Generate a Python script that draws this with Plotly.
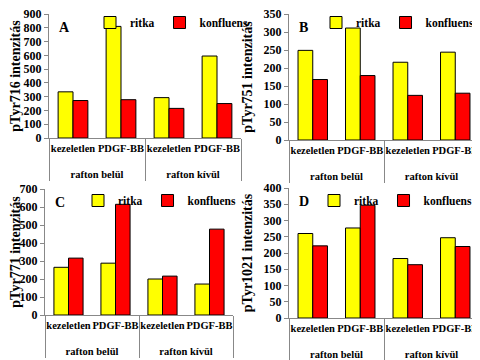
import plotly.graph_objects as go

groups = ["rafton belül", "rafton belül", "rafton kívül", "rafton kívül"]
treatments = ["kezeletlen", "PDGF-BB", "kezeletlen", "PDGF-BB"]

a_ritka = [335, 810, 293, 595]
a_konf = [272, 278, 215, 250]
b_ritka = [249, 311, 216, 244]
b_konf = [168, 179, 124, 130]
c_ritka = [265, 288, 200, 172]
c_konf = [316, 615, 216, 477]
d_ritka = [260, 277, 183, 247]
d_konf = [222, 347, 164, 220]

panels = [
    ("A", "pTyr716 intenzitás", a_ritka, a_konf, [0, 900], 100),
    ("B", "pTyr751 intenzitás", b_ritka, b_konf, [0, 350], 50),
    ("C", "pTyr771 intenzitás", c_ritka, c_konf, [0, 700], 100),
    ("D", "pTyr1021 intenzitás", d_ritka, d_konf, [0, 400], 50),
]

# the page body has an 8px margin, so the figure is 472x352 and drawn at (8, 8)
W, H, OFF = 472, 352, 8


def fx(sx):
    return (sx - OFF) / W


def fy(sy):
    return (360 - sy) / H


# plot areas in screen pixels (left, right, top, bottom)
boxes = [(49, 241, 14, 138), (289, 479, 14, 140), (45, 233, 189, 315), (289, 479, 188, 318)]
# legend left edge / top edge in screen pixels
legpos = [(90, 8), (316, 8), (78, 186), (314, 186)]

FONT = "Liberation Serif, Times New Roman, serif"
fig = go.Figure()
layout = {}
for i, (letter, title, rit, konf, rng, dt) in enumerate(panels):
    n = "" if i == 0 else str(i + 1)
    leg = "legend" + n
    xcats = [[" <br>" + g for g in groups], treatments]
    fig.add_trace(go.Bar(x=xcats, y=rit, name="ritka",
                         marker=dict(color="#FFFF00", line=dict(color="black", width=1)),
                         xaxis="x" + n, yaxis="y" + n, legend=leg))
    fig.add_trace(go.Bar(x=xcats, y=konf, name="konfluens",
                         marker=dict(color="#FF0000", line=dict(color="black", width=1)),
                         xaxis="x" + n, yaxis="y" + n, legend=leg))
    l, r, t, b = boxes[i]
    layout["xaxis" + n] = dict(domain=[fx(l), fx(r)], anchor="y" + n, type="multicategory",
                               showline=True, linecolor="#888", linewidth=1,
                               showdividers=True, dividercolor="#888", dividerwidth=1,
                               tickangle=0,
                               tickfont=dict(family=FONT, size=10.5, color="black", weight="bold"),
                               ticks="", showgrid=False)
    layout["yaxis" + n] = dict(domain=[fy(b), fy(t)], anchor="x" + n, range=rng, dtick=dt,
                               showline=True, linecolor="#888", linewidth=1,
                               showgrid=False, zeroline=False, ticklabeloverflow="allow",
                               ticks="outside", ticklen=4, tickcolor="#888",
                               tickfont=dict(family=FONT, size=12, color="black", weight="bold"),
                               title=dict(text="<b>" + title + "</b>",
                                          font=dict(family=FONT, size=14, color="black"),
                                          standoff=7))
    lx, ly = legpos[i]
    layout[leg] = dict(orientation="h", x=fx(lx), xanchor="left", y=fy(ly),
                       yanchor="top", bgcolor="rgba(0,0,0,0)",
                       font=dict(family=FONT, size=11.5, color="black", weight="bold"),
                       tracegroupgap=0, itemwidth=30)
    fig.add_annotation(text="<b>" + letter + "</b>", xref="x" + n + " domain",
                       yref="y" + n + " domain", x=0.04, y=0.97, xanchor="left",
                       yanchor="top", showarrow=False,
                       font=dict(family=FONT, size=14, color="black"))

fig.update_layout(**layout)
fig.update_layout(width=W, height=H,
                  margin=dict(l=0, r=0, t=0, b=0, autoexpand=False),
                  plot_bgcolor="white", paper_bgcolor="white",
                  barmode="group", bargap=0.38, bargroupgap=0,
                  font=dict(family=FONT, size=12, color="black"))
fig.write_html("out.html")
